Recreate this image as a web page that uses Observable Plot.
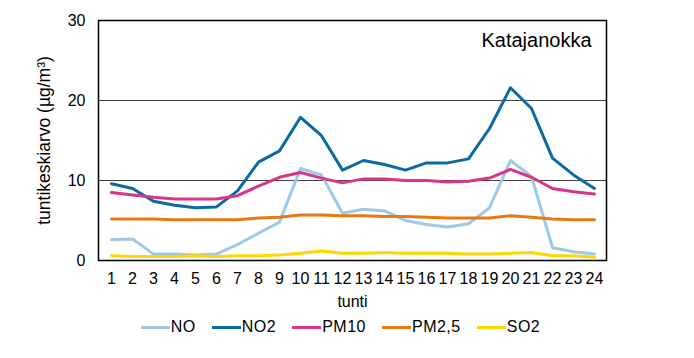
<!DOCTYPE html>
<html>
<head>
<meta charset="utf-8">
<script src="https://cdn.jsdelivr.net/npm/d3@7"></script>
<script src="https://cdn.jsdelivr.net/npm/@observablehq/plot@0.6"></script>
<style>
  html, body { margin: 0; padding: 0; background: #fff; }
  body { width: 694px; height: 358px; font-family: "Liberation Sans", Arial, sans-serif; }
  #legend { display: flex; justify-content: center; align-items: center; height: 20px; margin-top: 5px; padding-right: 13px; font-size: 16px; color: #000; }
  .item { display: flex; align-items: center; margin: 0 8px; letter-spacing: 0.5px; }
  .sw { width: 29px; height: 3px; margin-right: 1px; }
</style>
</head>
<body>
<div id="chart"></div>
<div id="legend"></div>
<script>
const hours = d3.range(1, 25);
const seriesNames = ["NO", "NO2", "PM10", "PM2,5", "SO2"];
const colors = ["#9dc8e8", "#0a6aa3", "#d9358a", "#e8780f", "#ffd700"];
const NO   = [2.6, 2.7, 0.8, 0.8, 0.7, 0.8, 2.0, 3.4, 4.8, 11.5, 10.7, 5.9, 6.4, 6.2, 5.0, 4.5, 4.2, 4.6, 6.6, 12.5, 10.5, 1.6, 1.1, 0.8];
const NO2  = [9.6, 9.0, 7.4, 6.9, 6.6, 6.7, 8.7, 12.3, 13.7, 17.9, 15.6, 11.3, 12.5, 12.0, 11.3, 12.2, 12.2, 12.7, 16.5, 21.6, 19.0, 12.8, 10.7, 9.0];
const PM10 = [8.5, 8.2, 7.9, 7.7, 7.7, 7.7, 8.1, 9.3, 10.4, 11.0, 10.3, 9.7, 10.2, 10.2, 10.0, 10.0, 9.8, 9.9, 10.3, 11.4, 10.4, 9.0, 8.6, 8.3];
const PM25 = [5.2, 5.2, 5.2, 5.1, 5.1, 5.1, 5.1, 5.3, 5.4, 5.7, 5.7, 5.6, 5.6, 5.5, 5.5, 5.4, 5.3, 5.3, 5.3, 5.6, 5.4, 5.2, 5.1, 5.1];
const SO2  = [0.6, 0.5, 0.5, 0.5, 0.6, 0.5, 0.6, 0.6, 0.7, 0.9, 1.2, 0.9, 0.9, 1.0, 0.9, 0.9, 0.9, 0.8, 0.8, 0.9, 1.0, 0.6, 0.6, 0.4];
const yTicks = [0, 10, 20, 30];
const gridValues = [10, 20];
const stationName = "Katajanokka";
const yLabel = "tuntikeskiarvo (µg/m³)";
const xLabel = "tunti";

const allSeries = [NO, NO2, PM10, PM25, SO2];
const lineMarks = allSeries.map((arr, k) =>
  Plot.line(hours.map((h, i) => ({h, v: arr[i]})), {
    x: "h", y: "v", stroke: colors[k], strokeWidth: 3, strokeLinejoin: "round"
  })
);

const chart = Plot.plot({
  width: 694,
  height: 312,
  marginLeft: 98,
  marginRight: 88,
  marginTop: 20,
  marginBottom: 52,
  style: { fontFamily: "'Liberation Sans', Arial, sans-serif", color: "#000", background: "#fff" },
  x: { type: "point", domain: hours, padding: 0.5 },
  y: { domain: [0, 30] },
  marks: [
    Plot.ruleY(gridValues, { stroke: "#404040", strokeWidth: 1 }),
    ...lineMarks,
    Plot.frame({ stroke: "#000", strokeWidth: 1.5 }),
    Plot.text([stationName], { frameAnchor: "top-right", dx: -15, dy: 12, fontSize: 20, textAnchor: "end", lineAnchor: "top", fill: "#000" }),
    Plot.axisY({ ticks: yTicks, tickSize: 0, tickPadding: 13, fontSize: 16, label: null }),
    Plot.axisY({ ticks: [], tickSize: 0, fontSize: 17.5, label: yLabel, labelAnchor: "center", labelOffset: 61, labelArrow: "none" }),
    Plot.axisX({ tickSize: 0, tickPadding: 12, fontSize: 16, label: xLabel, labelAnchor: "center", labelOffset: 46, labelArrow: "none" })
  ]
});
document.getElementById("chart").appendChild(chart);

const legend = document.getElementById("legend");
seriesNames.forEach((name, k) => {
  const it = document.createElement("div");
  it.className = "item";
  const sw = document.createElement("div");
  sw.className = "sw";
  sw.style.background = colors[k];
  const tx = document.createElement("span");
  tx.textContent = name;
  it.appendChild(sw);
  it.appendChild(tx);
  legend.appendChild(it);
});
</script>
</body>
</html>
